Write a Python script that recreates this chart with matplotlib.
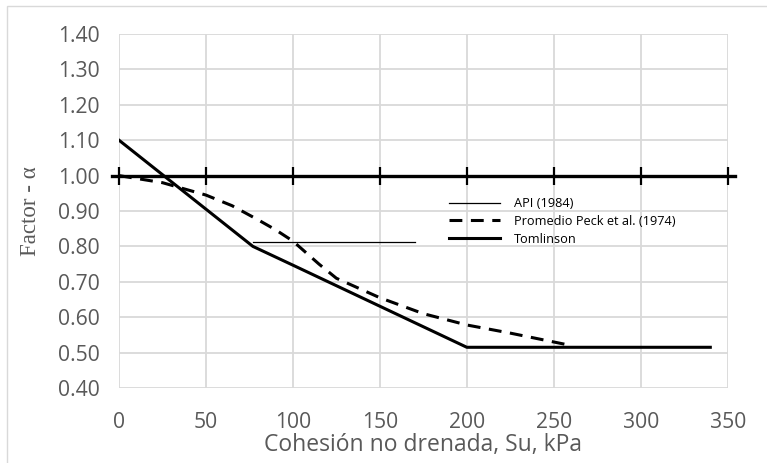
import matplotlib
matplotlib.use("Agg")
import matplotlib.pyplot as plt
from matplotlib.patches import Rectangle

plt.rcParams['font.family'] = 'Open Sans'

# datos
su_tomlinson    = [0, 77, 100, 150, 200, 340]
alfa_tomlinson  = [1.10, 0.80, 0.747, 0.631, 0.515, 0.515]

su_peck         = [0, 25, 50, 65, 80, 90, 100, 115, 125, 150, 175, 200, 225, 260]
alfa_peck       = [1.00, 0.98, 0.945, 0.915, 0.875, 0.847, 0.815, 0.75, 0.71, 0.655, 0.61, 0.578, 0.555, 0.52]

su_api          = [77, 170]
alfa_api        = [0.812, 0.812]

x_ticks = [0, 50, 100, 150, 200, 250, 300, 350]
y_ticks = [0.40, 0.50, 0.60, 0.70, 0.80, 0.90, 1.00, 1.10, 1.20, 1.30, 1.40]
y_cruce = 1.00   # el eje horizontal cruza en 1.00

gris = '#595959'

fig = plt.figure(figsize=(7.67, 4.63), dpi=100)
ax = fig.add_axes([119/767, 1 - 388/463, (727.7 - 119)/767, (388 - 34)/463])

ax.set_xlim(0, 350)
ax.set_ylim(0.40, 1.40)
ax.set_xticks(x_ticks)
ax.set_yticks(y_ticks)
ax.set_yticklabels([f"{v:.2f}" for v in y_ticks])
ax.grid(True, color='#d9d9d9', lw=1.3)
ax.set_axisbelow(True)
for s in ax.spines.values():
    s.set_visible(False)
ax.tick_params(length=0, colors=gris, labelsize=15.2)
ax.tick_params(axis='x', pad=17)
ax.tick_params(axis='y', pad=14)

# eje horizontal en y = 1.00 con marcas cruzadas
ax.plot([-4, 354], [y_cruce, y_cruce], color='black', lw=2.4, clip_on=False, zorder=3)
ax.plot(x_ticks, [y_cruce] * len(x_ticks), ls='none', marker='|', ms=13, mew=1.6,
        color='black', clip_on=False, zorder=3)

ax.plot(su_api, alfa_api, color='black', lw=0.9, label='API (1984)', zorder=4)
ax.plot(su_peck, alfa_peck, color='black', lw=2.2, dashes=(4.2, 2.8),
        label='Promedio Peck et al. (1974)', zorder=4)
ax.plot(su_tomlinson, alfa_tomlinson, color='black', lw=2.2, label='Tomlinson', zorder=4)

ax.set_xlabel('Cohesión no drenada, Su, kPa', color=gris, fontsize=16.5, labelpad=0)
ax.set_ylabel('Factor - α', color=gris, fontsize=16.5, family='Liberation Serif', labelpad=12)

ax.legend(loc='upper left', bbox_to_anchor=(444/767, 1 - 192/463), bbox_transform=fig.transFigure,
          frameon=False, fontsize=9.2, handlelength=4.0, labelspacing=0.38, handletextpad=1.1,
          borderaxespad=0)

# marco exterior del grafico
fig.patches.append(Rectangle((7/767, -0.1), 1.2, 1 - 6/463 + 0.1, transform=fig.transFigure,
                             fill=False, edgecolor='#d9d9d9', lw=1.0))

fig.savefig('out.png', dpi=100)
